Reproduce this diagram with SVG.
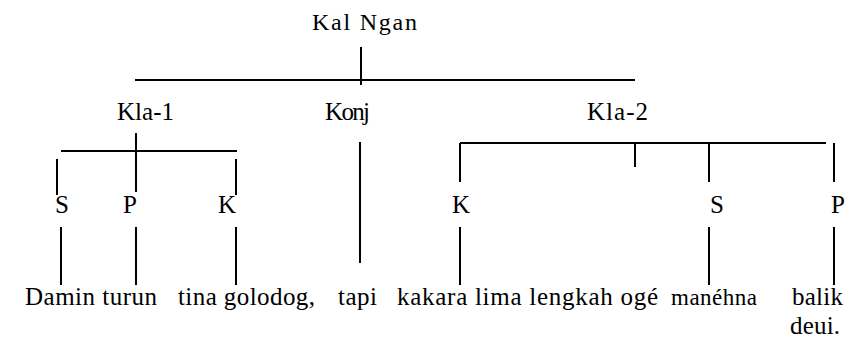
<svg xmlns="http://www.w3.org/2000/svg" width="849" height="341" viewBox="0 0 849 341">
  <rect width="849" height="341" fill="#fff"/>

  <!-- tree branches -->
  <g id="connectors" stroke="#000" stroke-width="2">
    <!-- sentence to clauses -->
    <line x1="361" y1="47" x2="361" y2="85"/>
    <line x1="135" y1="80" x2="635" y2="80"/>
    <!-- clause 1 -->
    <line x1="136" y1="133" x2="136" y2="192"/>
    <line x1="61" y1="151" x2="237" y2="151"/>
    <line x1="57" y1="159" x2="57" y2="195"/>
    <line x1="236" y1="159" x2="236" y2="195"/>
    <line x1="61" y1="227" x2="61" y2="285"/>
    <line x1="136" y1="227" x2="136" y2="285"/>
    <line x1="236" y1="227" x2="236" y2="285"/>
    <!-- conjunction -->
    <line x1="360" y1="142" x2="360" y2="263"/>
    <!-- clause 2 -->
    <line x1="460" y1="143" x2="826" y2="143"/>
    <line x1="460" y1="143" x2="460" y2="182"/>
    <line x1="635" y1="143" x2="635" y2="167"/>
    <line x1="709" y1="143" x2="709" y2="182"/>
    <line x1="834" y1="143" x2="834" y2="182"/>
    <line x1="460" y1="227" x2="460" y2="285"/>
    <line x1="709" y1="227" x2="709" y2="285"/>
    <line x1="834" y1="227" x2="834" y2="285"/>
  </g>

  <g id="root"><text font-family="Liberation Serif" font-size="24" x="312" y="30" textLength="105" lengthAdjust="spacing">Kal  Ngan</text></g>

  <g id="kla1"><text font-family="Liberation Serif" font-size="25" x="117" y="120" textLength="57" lengthAdjust="spacing">Kla-1</text></g>
  <g id="konj"><text font-family="Liberation Serif" font-size="25" x="325" y="120" textLength="45" lengthAdjust="spacing">Konj</text></g>
  <g id="kla2"><text font-family="Liberation Serif" font-size="25" x="587" y="120" textLength="61" lengthAdjust="spacing">Kla-2</text></g>

  <g id="kla1-s"><text font-family="Liberation Serif" font-size="25" x="55" y="213">S</text></g>
  <g id="kla1-p"><text font-family="Liberation Serif" font-size="25" x="123" y="213">P</text></g>
  <g id="kla1-k"><text font-family="Liberation Serif" font-size="25" x="218" y="213">K</text></g>
  <g id="kla2-k"><text font-family="Liberation Serif" font-size="25" x="452" y="213">K</text></g>
  <g id="kla2-s"><text font-family="Liberation Serif" font-size="25" x="710" y="213">S</text></g>
  <g id="kla2-p"><text font-family="Liberation Serif" font-size="25" x="831" y="213">P</text></g>

  <g id="w-damin"><text font-family="Liberation Serif" font-size="25" x="25" y="305" textLength="132" lengthAdjust="spacing">Damin turun</text></g>
  <g id="w-tina"><text font-family="Liberation Serif" font-size="25" x="178" y="305" textLength="137" lengthAdjust="spacing">tina golodog,</text></g>
  <g id="w-tapi"><text font-family="Liberation Serif" font-size="25" x="338" y="305" textLength="39" lengthAdjust="spacing">tapi</text></g>
  <g id="w-kakara"><text font-family="Liberation Serif" font-size="25" x="397" y="305" textLength="261" lengthAdjust="spacing">kakara lima lengkah og&#233;</text></g>
  <g id="w-manehna"><text font-family="Liberation Serif" font-size="23" x="671" y="305" textLength="86" lengthAdjust="spacing">man&#233;hna</text></g>
  <g id="w-balik">
    <text font-family="Liberation Serif" font-size="25" x="792" y="305" textLength="51" lengthAdjust="spacing">balik</text>
    <text font-family="Liberation Serif" font-size="25" x="790" y="334" textLength="50" lengthAdjust="spacing">deui.</text>
  </g>
</svg>
